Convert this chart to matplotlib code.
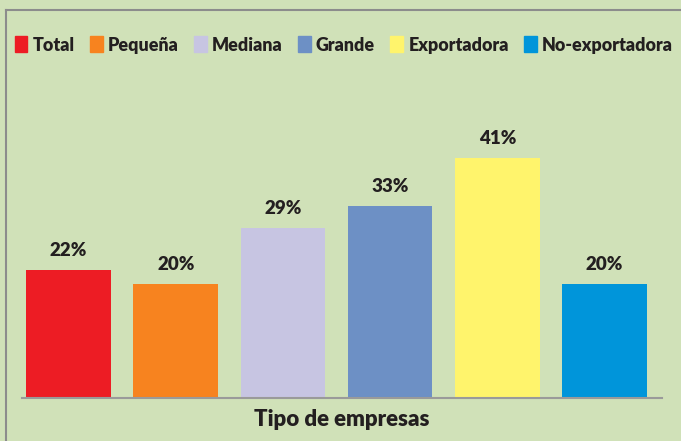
import matplotlib.pyplot as plt
from matplotlib.lines import Line2D
from matplotlib.patches import Patch

categorias = ['Total', 'Pequeña', 'Mediana', 'Grande', 'Exportadora', 'No-exportadora']
valores = [22.0, 19.6, 29.2, 32.9, 41.2, 19.6]
colores = ['#ed1c24', '#f7831f', '#c7c5e2', '#6d90c5', '#fff46c', '#0095da']
etiquetas = ['22%', '20%', '29%', '33%', '41%', '20%']

fondo = '#d0e1b8'
texto = '#231f20'
plt.rcParams['font.family'] = ['Lato', 'DejaVu Sans']

fig = plt.figure(figsize=(6.81, 4.41), dpi=100, facecolor=fondo)
ax = fig.add_axes([22/681, 43/441, 640/681, 358/441])
ax.set_facecolor(fondo)

x = list(range(len(categorias)))
barras = ax.bar(x, valores, width=0.79, color=colores)
for b, et in zip(barras, etiquetas):
    ax.annotate(et, (b.get_x() + b.get_width()/2, b.get_height()),
                xytext=(0, 8), textcoords='offset points', ha='center', va='bottom',
                fontsize=13.5, fontweight='heavy', color=texto)

ax.set_xlim(-0.434, 5.536)
ax.set_ylim(0, 61.4)
ax.set_xticks([])
ax.set_yticks([])
for s in ['top', 'right', 'left']:
    ax.spines[s].set_visible(False)
ax.spines['bottom'].set_color('#9a9a9a')
ax.spines['bottom'].set_linewidth(1.5)

ax.set_xlabel('Tipo de empresas', fontsize=16, fontweight='heavy', color=texto, labelpad=8)

# leyenda
handles = [Patch(color=c) for c in colores]
fig.legend(handles, categorias, loc='center', bbox_to_anchor=(0.505, 0.898), ncol=6,
           frameon=False, handlelength=0.7, handleheight=1.0, handletextpad=0.3,
           columnspacing=0.85, prop={'weight': 'heavy', 'size': 12.9}, labelcolor=texto)

# marco del grafico
fig.lines.append(Line2D([6/681, 6/681], [0, 1 - 10/441], transform=fig.transFigure,
                        color='#8c8c8c', lw=1.5))
fig.lines.append(Line2D([6/681, 1], [1 - 10/441, 1 - 10/441], transform=fig.transFigure,
                        color='#8c8c8c', lw=1.5))

fig.savefig('out.png', dpi=100, facecolor=fondo)
